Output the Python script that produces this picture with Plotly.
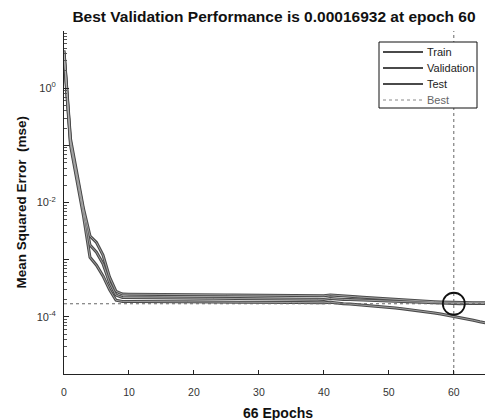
import plotly.graph_objects as go

# Training record: mean squared error per epoch
epochs = list(range(67))

train_mse = [
    4.0, 1.0e-1, 2.4e-2, 5.8e-3, 1.1e-3, 8.0e-4, 5.2e-4, 3.0e-4, 1.95e-4,
    1.86e-4, 1.86e-4, 1.85e-4, 1.85e-4, 1.85e-4, 1.84e-4, 1.84e-4, 1.84e-4, 1.83e-4, 1.83e-4, 1.83e-4,
    1.82e-4, 1.82e-4, 1.82e-4, 1.81e-4, 1.81e-4, 1.81e-4, 1.80e-4, 1.80e-4, 1.80e-4, 1.79e-4,
    1.79e-4, 1.79e-4, 1.79e-4, 1.78e-4, 1.78e-4, 1.78e-4, 1.78e-4, 1.77e-4, 1.77e-4, 1.77e-4,
    1.76e-4, 1.80e-4, 1.73e-4, 1.70e-4, 1.67e-4, 1.64e-4, 1.61e-4, 1.58e-4, 1.55e-4, 1.51e-4,
    1.47e-4, 1.43e-4, 1.39e-4, 1.35e-4, 1.31e-4, 1.27e-4, 1.22e-4, 1.17e-4, 1.12e-4, 1.07e-4,
    1.02e-4, 9.7e-5, 9.2e-5, 8.7e-5, 8.2e-5, 7.8e-5, 7.4e-5,
]

val_mse = [
    4.3, 1.15e-1, 2.8e-2, 6.8e-3, 1.8e-3, 1.35e-3, 8.5e-4, 4.0e-4, 2.4e-4,
    2.18e-4, 2.17e-4, 2.17e-4, 2.16e-4, 2.16e-4, 2.15e-4, 2.15e-4, 2.14e-4, 2.14e-4, 2.13e-4, 2.13e-4,
    2.12e-4, 2.12e-4, 2.11e-4, 2.11e-4, 2.10e-4, 2.10e-4, 2.09e-4, 2.09e-4, 2.08e-4, 2.08e-4,
    2.07e-4, 2.07e-4, 2.06e-4, 2.06e-4, 2.05e-4, 2.05e-4, 2.04e-4, 2.04e-4, 2.03e-4, 2.03e-4,
    2.02e-4, 2.10e-4, 2.04e-4, 2.02e-4, 2.00e-4, 1.98e-4, 1.96e-4, 1.94e-4, 1.92e-4, 1.90e-4,
    1.88e-4, 1.86e-4, 1.84e-4, 1.82e-4, 1.80e-4, 1.78e-4, 1.76e-4, 1.74e-4, 1.72e-4, 1.705e-4,
    1.6932e-4, 1.70e-4, 1.705e-4, 1.71e-4, 1.715e-4, 1.72e-4, 1.72e-4,
]

test_mse = [
    4.6, 1.3e-1, 3.2e-2, 7.8e-3, 2.6e-3, 2.0e-3, 1.2e-3, 5.0e-4, 2.8e-4,
    2.50e-4, 2.49e-4, 2.49e-4, 2.48e-4, 2.48e-4, 2.47e-4, 2.47e-4, 2.46e-4, 2.46e-4, 2.45e-4, 2.45e-4,
    2.44e-4, 2.44e-4, 2.43e-4, 2.43e-4, 2.42e-4, 2.42e-4, 2.41e-4, 2.41e-4, 2.40e-4, 2.40e-4,
    2.39e-4, 2.39e-4, 2.38e-4, 2.38e-4, 2.37e-4, 2.37e-4, 2.36e-4, 2.36e-4, 2.35e-4, 2.35e-4,
    2.34e-4, 2.42e-4, 2.36e-4, 2.32e-4, 2.28e-4, 2.24e-4, 2.20e-4, 2.16e-4, 2.12e-4, 2.08e-4,
    2.04e-4, 2.01e-4, 1.98e-4, 1.95e-4, 1.92e-4, 1.89e-4, 1.86e-4, 1.84e-4, 1.82e-4, 1.80e-4,
    1.78e-4, 1.78e-4, 1.77e-4, 1.77e-4, 1.77e-4, 1.76e-4, 1.76e-4,
]

series_names = ["Train", "Validation", "Test"]

best_epoch = 60
best_perf = val_mse[best_epoch]
n_epochs = epochs[-1]

x_ticks = [0, 10, 20, 30, 40, 50, 60]
y_decades = [1e1, 1e0, 1e-1, 1e-2, 1e-3, 1e-4, 1e-5]
y_ticktext = ["", "10<sup>0</sup>", "", "10<sup>-2</sup>", "", "10<sup>-4</sup>", ""]
y_lo, y_hi = 1e-5, 1e1

FONT = "Liberation Sans, Arial, Helvetica, sans-serif"
EDGE = "#4a4a4a"
CORE = "#b4b4b4"
BEST = "#666666"

# Layout geometry (pixels)
W, H = 485, 420
ML, MR, MT, MB = 64, 0, 31, 46
PW, PH = W - ML - MR, H - MT - MB


def px_x(px):
    return (px - ML) / PW


def px_y(py):
    return 1 - (py - MT) / PH


fig = go.Figure()

# Curves: a dark stroke with a pale core line on top
for values in [train_mse, val_mse, test_mse]:
    fig.add_trace(go.Scatter(x=epochs, y=values, mode="lines", showlegend=False,
                             line=dict(color=EDGE, width=3.0)))
for values in [train_mse, val_mse, test_mse]:
    fig.add_trace(go.Scatter(x=epochs, y=values, mode="lines", showlegend=False,
                             line=dict(color=CORE, width=0.8)))

# Best-epoch guide lines (vertical at best epoch, horizontal at best performance)
fig.add_trace(go.Scatter(
    x=[best_epoch, best_epoch, None, 0, n_epochs],
    y=[y_lo, y_hi, None, best_perf, best_perf],
    mode="lines", showlegend=False,
    line=dict(color=BEST, width=1, dash="dot"),
))

# Circle at the best validation point
fig.add_trace(go.Scatter(
    x=[best_epoch], y=[best_perf], mode="markers", showlegend=False,
    marker=dict(symbol="circle-open", size=22, color="#111",
                line=dict(width=1.8, color="#111")),
))

# Minor tick positions on the log axis
minor_vals = [m * d for d in [1e-5, 1e-4, 1e-3, 1e-2, 1e-1, 1e0] for m in range(2, 10)]

fig.update_layout(
    width=W, height=H,
    margin=dict(l=ML, r=MR, t=MT, b=MB),
    paper_bgcolor="white", plot_bgcolor="white",
    font=dict(family=FONT, color="#333", size=10),
    title=dict(
        text=f"<b>Best Validation Performance is {best_perf:.5g} at epoch {best_epoch}</b>",
        x=px_x(274), xref="paper", xanchor="center",
        y=1 - 17 / H, yref="container", yanchor="middle",
        font=dict(family=FONT, size=15.5, color="#111"),
    ),
    showlegend=False,
)

fig.update_xaxes(
    range=[0, 64.8], tickvals=x_ticks, ticks="inside", ticklen=4,
    tickcolor="#222", showline=True, linecolor="#222", linewidth=1,
    showgrid=False, zeroline=False, ticklabelstandoff=8,
    tickfont=dict(family=FONT, size=10.5, color="#333"),
)
fig.update_yaxes(
    type="log", range=[-5, 1], tickvals=y_decades, ticktext=y_ticktext,
    ticks="inside", ticklen=5, tickcolor="#222",
    minor=dict(tickvals=minor_vals, ticks="inside", ticklen=3, tickcolor="#555"),
    showline=True, linecolor="#222", linewidth=1,
    showgrid=False, zeroline=False, ticklabelstandoff=5,
    tickfont=dict(family=FONT, size=11, color="#333"),
)

# Axis titles
fig.add_annotation(
    text="<b>66 Epochs</b>", xref="paper", yref="paper",
    x=px_x(278), y=px_y(413), xanchor="center", yanchor="middle",
    showarrow=False, font=dict(family=FONT, size=14, color="#111"),
)
fig.add_annotation(
    text="<b>Mean Squared Error  (mse)</b>", xref="paper", yref="paper",
    x=px_x(21), y=0.5, xanchor="center", yanchor="middle", textangle=-90,
    showarrow=False, font=dict(family=FONT, size=13.5, color="#111"),
)

# Legend box
legend_left, legend_right, legend_top, legend_bottom = 379, 477, 42, 108
fig.add_shape(type="rect", xref="paper", yref="paper",
              x0=px_x(legend_left), x1=px_x(legend_right),
              y0=px_y(legend_bottom), y1=px_y(legend_top),
              line=dict(color="#111", width=1), fillcolor="white", layer="above")
legend_rows = [(name, EDGE, "solid", 2.2) for name in series_names] + [("Best", "#888", "dot", 1)]
for i, (label, color, dash, width) in enumerate(legend_rows):
    row_y = px_y(52 + i * 16)
    fig.add_shape(type="line", xref="paper", yref="paper",
                  x0=px_x(383), x1=px_x(423), y0=row_y, y1=row_y,
                  line=dict(color=color, width=width, dash=dash), layer="above")
    fig.add_annotation(text=label, xref="paper", yref="paper",
                       x=px_x(425), y=row_y, xanchor="left", yanchor="middle",
                       showarrow=False,
                       font=dict(family=FONT, size=11,
                                 color="#222" if label != "Best" else "#666"))

fig.write_html("out.html")
